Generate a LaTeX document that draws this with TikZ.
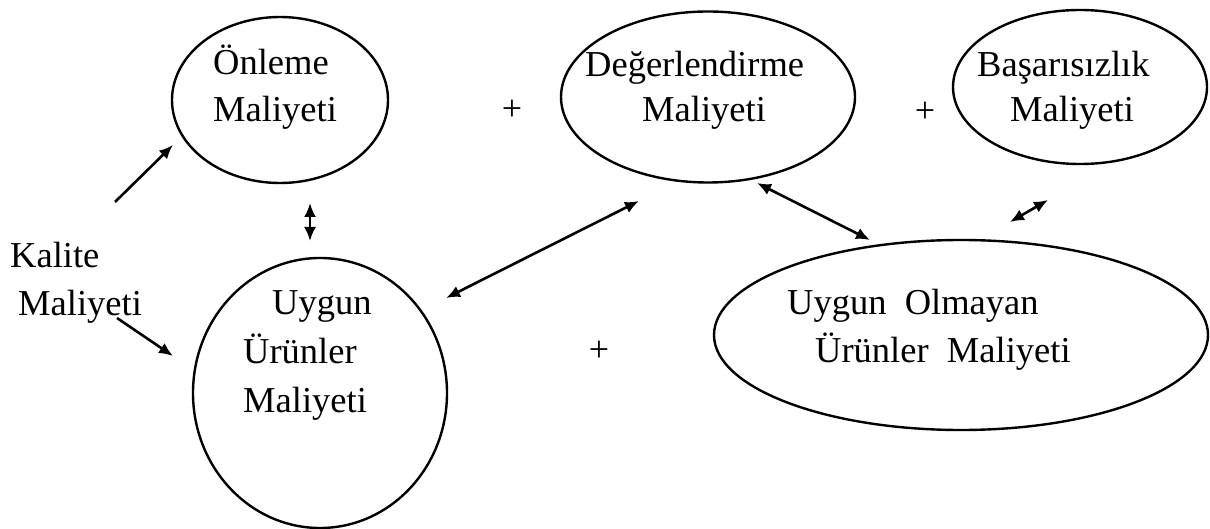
\documentclass[tikz,border=0pt]{standalone}
\usepackage{fontspec}
\setmainfont{Liberation Serif}
\usetikzlibrary{shapes.geometric,arrows.meta}
\tikzset{
  oval/.style={draw=black, line width=2.4pt, ellipse, inner sep=0pt},
  lbl/.style={anchor=base west, inner sep=0pt, font=\fontsize{36.5}{40}\selectfont},
  plus/.style={inner sep=0pt, font=\fontsize{36}{40}\selectfont},
  arr/.style={line width=2.6pt, -{Latex[length=14pt,width=12pt]}},
  darr/.style={line width=2.6pt, {Latex[length=14pt,width=12pt]}-{Latex[length=14pt,width=12pt]}}
}
\begin{document}
\begin{tikzpicture}[x=1pt,y=-1pt]
\useasboundingbox (0,0) rectangle (1210,529);
% ellipses
\node[oval, minimum width=216pt, minimum height=166pt] (onl) at (280,100) {};
\node[oval, minimum width=294pt, minimum height=171pt] (deg) at (708,97) {};
\node[oval, minimum width=254pt, minimum height=154pt] (bas) at (1080,87) {};
\node[oval, minimum width=254pt, minimum height=270pt] (uyg) at (320,393) {};
\node[oval, minimum width=494pt, minimum height=190pt] (uol) at (961,335) {};
% texts
\node[lbl] (t1) at (213,75) {Önleme};
\node[lbl] (t2) at (213,122) {Maliyeti};
\node[lbl] (t3) at (585,77) {Değerlendirme};
\node[lbl] (t4) at (642,122) {Maliyeti};
\node[lbl] (t5) at (977,77) {Başarısızlık};
\node[lbl] (t6) at (1010,122) {Maliyeti};
\node[lbl] (k1) at (10,268) {Kalite};
\node[lbl] (k2) at (18,316) {Maliyeti};
\node[lbl] (u1) at (272,315) {Uygun};
\node[lbl] (u2) at (243,363) {Ürünler};
\node[lbl] (u3) at (243,412) {Maliyeti};
\node[lbl] (o1) at (787,315) {Uygun\ \ Olmayan};
\node[lbl] (o2) at (815,362) {Ürünler\ \ Maliyeti};
% plus signs
\node[plus] (p1) at (512,110) {+};
\node[plus] (p2) at (925,112) {+};
\node[plus] (p3) at (599,351) {+};
% connector ends
\coordinate (a1s) at (115,202);
\coordinate (a1e) at (173,145);
\coordinate (a2s) at (117,318);
\coordinate (a2e) at (173,356);
\coordinate (a3s) at (310,203);
\coordinate (a3e) at (310,241);
\coordinate (a4s) at (446,298);
\coordinate (a4e) at (639,201);
\coordinate (a5s) at (757,183);
\coordinate (a5e) at (870,240);
\coordinate (a6s) at (1010,222);
\coordinate (a6e) at (1048,200);
\draw[arr] (a1s) -- (a1e);
\draw[arr] (a2s) -- (a2e);
\draw[darr] (a3s) -- (a3e);
\draw[darr] (a4s) -- (a4e);
\draw[darr] (a5s) -- (a5e);
\draw[darr] (a6s) -- (a6e);
\end{tikzpicture}
\end{document}
